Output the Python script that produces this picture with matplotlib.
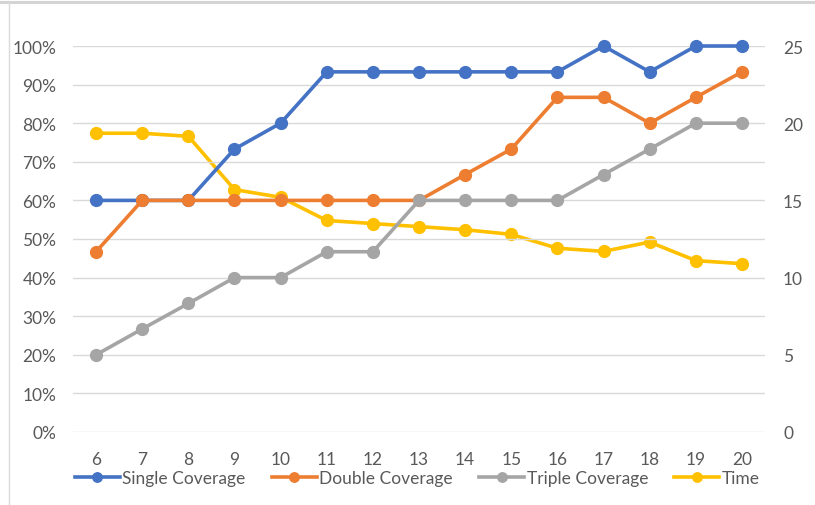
import matplotlib
matplotlib.use("Agg")
import matplotlib.pyplot as plt
from matplotlib.ticker import FuncFormatter
from matplotlib.lines import Line2D

plt.rcParams['font.family'] = ['Lato', 'DejaVu Sans']

# Number of nodes
categories = [6, 7, 8, 9, 10, 11, 12, 13, 14, 15, 16, 17, 18, 19, 20]

# Coverage ratios (%)
single_coverage = [60, 60, 60, 73.3, 80, 93.3, 93.3, 93.3, 93.3, 93.3, 93.3, 100, 93.3, 100, 100]
double_coverage = [46.7, 60, 60, 60, 60, 60, 60, 60, 66.7, 73.3, 86.7, 86.7, 80, 86.7, 93.3]
triple_coverage = [20, 26.7, 33.3, 40, 40, 46.7, 46.7, 60, 60, 60, 60, 66.7, 73.3, 80, 80]

# Run time (secondary axis)
time_values = [19.35, 19.35, 19.15, 15.7, 15.2, 13.7, 13.5, 13.3, 13.1, 12.8, 11.9, 11.7, 12.3, 11.1, 10.9]

left_ticks = [0, 10, 20, 30, 40, 50, 60, 70, 80, 90, 100]
right_ticks = [0, 5, 10, 15, 20, 25]

BLUE = '#4472C4'
ORANGE = '#ED7D31'
GRAY = '#A5A5A5'
GOLD = '#FFC000'
TEXT = '#595959'
FS = 12.5

fig = plt.figure(figsize=(8.15, 5.06), dpi=100)
# frame edges of the chart area
fig.add_artist(Line2D([0, 1], [0.9945, 0.9945], transform=fig.transFigure,
                      color='#D4D4D4', linewidth=2.2))
fig.add_artist(Line2D([0.0105, 0.0105], [0, 0.9945], transform=fig.transFigure,
                      color='#DADADA', linewidth=1.0))

ax = fig.add_axes([0.0896, 0.1443, 0.8491, 0.7628])
ax2 = ax.twinx()

x = list(range(len(categories)))
style = dict(linewidth=2.6, marker='o', markersize=8.5, clip_on=False)
ax.plot(x, single_coverage, color=BLUE, label='Single Coverage', **style)
ax.plot(x, double_coverage, color=ORANGE, label='Double Coverage', **style)
ax.plot(x, triple_coverage, color=GRAY, label='Triple Coverage', **style)
ax2.plot(x, time_values, color=GOLD, label='Time', **style)

ax.set_xlim(-0.5, len(categories) - 0.5)
ax.set_ylim(0, 100)
ax2.set_ylim(0, 25)
ax.set_yticks(left_ticks)
ax2.set_yticks(right_ticks)
ax.yaxis.set_major_formatter(FuncFormatter(lambda v, p: f"{int(v)}%"))
ax.set_xticks(x)
ax.set_xticklabels([str(c) for c in categories])

ax.grid(axis='y', color='#D9D9D9', linewidth=1.0)
ax.set_axisbelow(True)
for a in (ax, ax2):
    for s in a.spines.values():
        s.set_visible(False)
    a.tick_params(length=0, labelsize=FS, labelcolor=TEXT)
ax.tick_params(axis='y', pad=12)
ax.tick_params(axis='x', pad=14)
ax2.tick_params(axis='y', pad=13)

ax.set_zorder(ax2.get_zorder() + 1)
ax.patch.set_visible(False)

handles = ax.get_lines() + ax2.get_lines()
leg = fig.legend(handles, [h.get_label() for h in handles], loc='center',
                 bbox_to_anchor=(0.512, 0.053), ncol=4, frameon=False,
                 fontsize=FS, handlelength=2.6, handletextpad=0.15,
                 columnspacing=1.5, markerscale=0.8, borderaxespad=0)
for t in leg.get_texts():
    t.set_color(TEXT)

fig.savefig('out.png', dpi=100)
